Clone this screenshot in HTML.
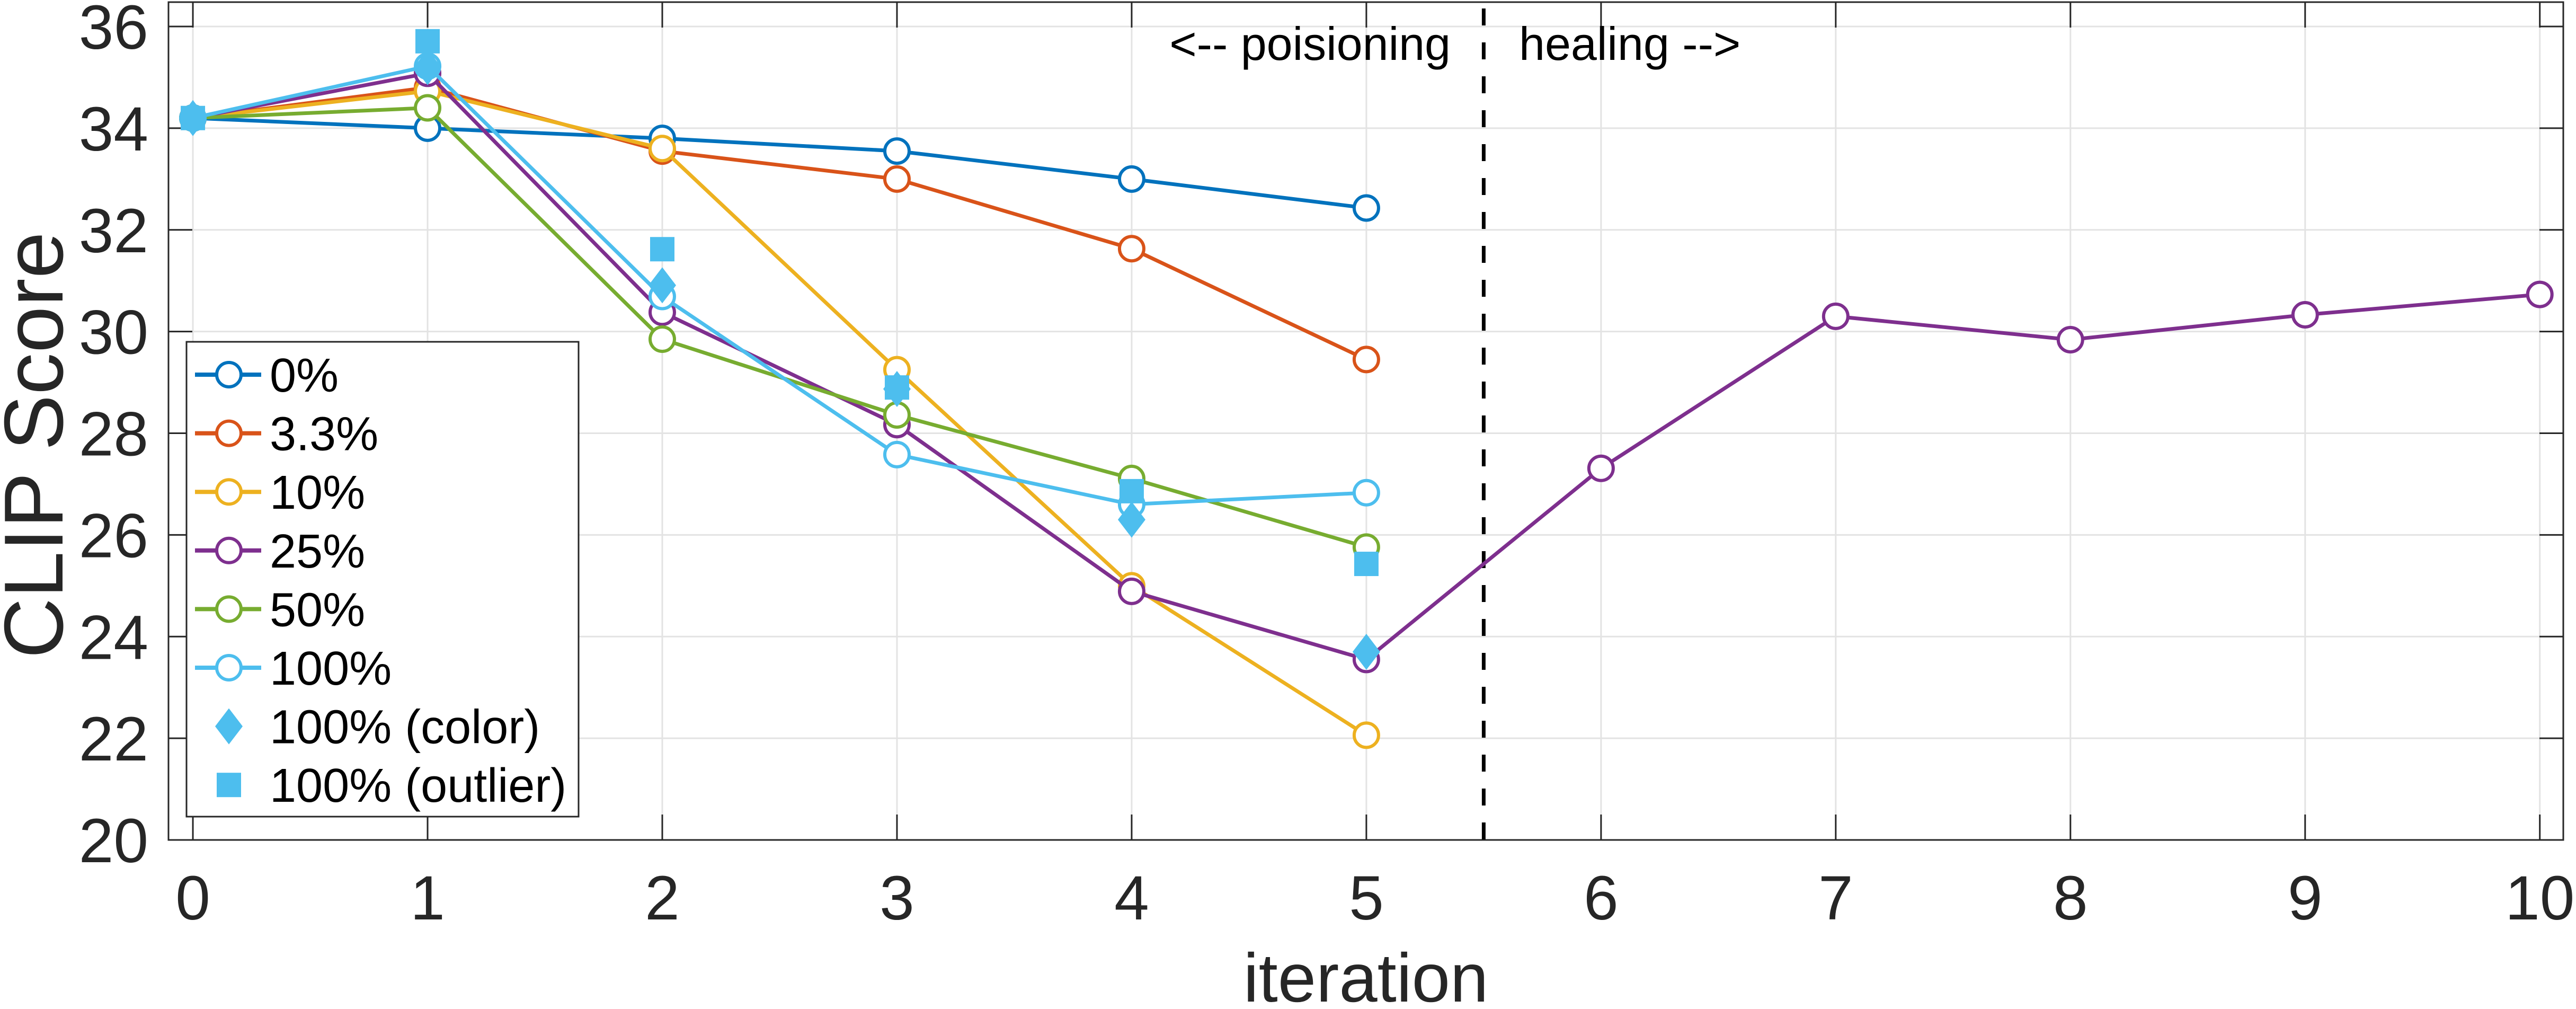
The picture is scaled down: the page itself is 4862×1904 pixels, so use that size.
<!DOCTYPE html>
<html><head><meta charset="utf-8"><style>
html,body{margin:0;padding:0;background:#fff;}
svg{display:block;font-family:"Liberation Sans",Arial,sans-serif;}
</style></head><body>
<svg id="chart" width="4862" height="1904" viewBox="0 0 4862 1904" xmlns="http://www.w3.org/2000/svg">
<g id="grid"></g>
<g id="axes"></g>
<g id="series"></g>
<g id="legend"></g>
</svg>
<script>
const xTicks = [0,1,2,3,4,5,6,7,8,9,10];
const yTicks = [20,22,24,26,28,30,32,34,36];
const seriesNames = ["0%","3.3%","10%","25%","50%","100%"];
const seriesColors = ["#0072BD","#D95319","#EDB120","#7E2F8E","#77AC30","#4DBEEE"];
const s0 = [34.2,34.0,33.8,33.55,33.0,32.43];
const s33 = [34.2,34.8,33.55,33.0,31.63,29.45];
const s10 = [34.2,34.73,33.6,29.25,25.0,22.06];
const s25 = [34.2,35.08,30.38,28.17,24.89,23.55,27.31,30.3,29.84,30.33,30.73];
const s50 = [34.2,34.4,29.85,28.36,27.11,25.76];
const s100 = [34.2,35.22,30.69,27.58,26.6,26.83];
const colorPts = [34.2,35.2,30.91,28.87,26.3,23.7];
const outlierPts = [34.2,35.71,31.62,28.9,26.86,25.43];
const allSeries = [s0,s33,s10,s25,s50,s100];

const NS="http://www.w3.org/2000/svg";
const L=318,R=4838,T=4,B=1585;
const xmin=-0.104,xmax=10.1,ymin=20,ymax=36.48;
function X(v){return L+(v-xmin)/(xmax-xmin)*(R-L);}
function Y(v){return B-(v-ymin)/(ymax-ymin)*(B-T);}
function mk(tag,attrs,parent){const e=document.createElementNS(NS,tag);for(const k in attrs)e.setAttribute(k,attrs[k]);parent.appendChild(e);return e;}
const grid=document.getElementById('grid'),axes=document.getElementById('axes'),ser=document.getElementById('series'),leg=document.getElementById('legend');

xTicks.forEach(t=>{
  const g=mk('line',{x1:X(t),x2:X(t),y1:T,y2:B,stroke:'#e3e3e3','stroke-width':3},grid);
  
  
  mk('line',{x1:X(t),x2:X(t),y1:B,y2:B-48,stroke:'#262626','stroke-width':3},axes);
  mk('line',{x1:X(t),x2:X(t),y1:T,y2:T+48,stroke:'#262626','stroke-width':3},axes);
  const tx=mk('text',{x:X(t),y:1735,'text-anchor':'middle','font-size':118,fill:'#262626'},axes);
  tx.textContent=t;
  
  
});
yTicks.forEach(t=>{
  const g=mk('line',{x1:L,x2:R,y1:Y(t),y2:Y(t),stroke:'#e3e3e3','stroke-width':3},grid);
  
  
  mk('line',{x1:L,x2:L+45,y1:Y(t),y2:Y(t),stroke:'#262626','stroke-width':3},axes);
  mk('line',{x1:R,x2:R-45,y1:Y(t),y2:Y(t),stroke:'#262626','stroke-width':3},axes);
  const tx=mk('text',{x:280,y:Y(t)+42,'text-anchor':'end','font-size':118,fill:'#262626'},axes);
  tx.textContent=t;
  
  
});
const box=mk('rect',{x:L,y:T,width:R-L,height:B-T,fill:'none',stroke:'#262626','stroke-width':3},axes);


const xl=mk('text',{x:(L+R)/2,y:1890,'text-anchor':'middle','font-size':130,fill:'#262626'},axes);
xl.textContent='iteration';


const yl=mk('text',{x:0,y:0,'text-anchor':'middle','font-size':158,fill:'#262626',transform:'translate(118,840) rotate(-90)'},axes);
yl.textContent='CLIP Score';



const dl=mk('line',{x1:X(5.5),x2:X(5.5),y1:T+12,y2:B,stroke:'#000','stroke-width':7,'stroke-dasharray':'32 32'},ser);


const pt=mk('text',{x:2738,y:113,'text-anchor':'end','font-size':88,fill:'#000'},ser);
pt.textContent='<-- poisioning';


const ht=mk('text',{x:2867,y:113,'font-size':88,fill:'#000'},ser);
ht.textContent='healing -->';



allSeries.forEach((d,i)=>{
  const g=mk('g',{},ser);
  
  
  const p=mk('polyline',{points:d.map((v,j)=>X(j)+','+Y(v)).join(' '),fill:'none',stroke:seriesColors[i],'stroke-width':7,'stroke-linejoin':'round'},g);
  
  
  d.forEach((v,j)=>{
    const c=mk('circle',{cx:X(j),cy:Y(v),r:23,fill:'#fff',stroke:seriesColors[i],'stroke-width':6},g);
    
    
  });
});
const blue='#4DBEEE';
colorPts.forEach((v,j)=>{
  const x=X(j),y=Y(v);
  const d=mk('polygon',{points:`${x},${y-34} ${x+26},${y} ${x},${y+34} ${x-26},${y}`,fill:blue},ser);
  
  
});
outlierPts.forEach((v,j)=>{
  const s=mk('rect',{x:X(j)-23,y:Y(v)-23,width:46,height:46,fill:blue},ser);
  
  
});

const lb=mk('rect',{x:352,y:645,width:740,height:896,fill:'#fff',stroke:'#262626','stroke-width':3},leg);


const labels=seriesNames.concat(['100% (color)','100% (outlier)']);
labels.forEach((name,i)=>{
  const cy=707+i*110.6;
  const g=mk('g',{},leg);
  
  
  if(i<6){
    mk('line',{x1:368,x2:493,y1:cy,y2:cy,stroke:seriesColors[i],'stroke-width':8},g);
    mk('circle',{cx:432,cy:cy,r:23,fill:'#fff',stroke:seriesColors[i],'stroke-width':6},g);
  } else if(i===6){
    mk('polygon',{points:`432,${cy-34} 458,${cy} 432,${cy+34} 406,${cy}`,fill:blue},g);
  } else {
    mk('rect',{x:409,y:cy-23,width:46,height:46,fill:blue},g);
  }
  const t=mk('text',{x:509,y:cy+32,'font-size':90,fill:'#000'},g);
  t.textContent=name;
});
</script>
</body></html>
